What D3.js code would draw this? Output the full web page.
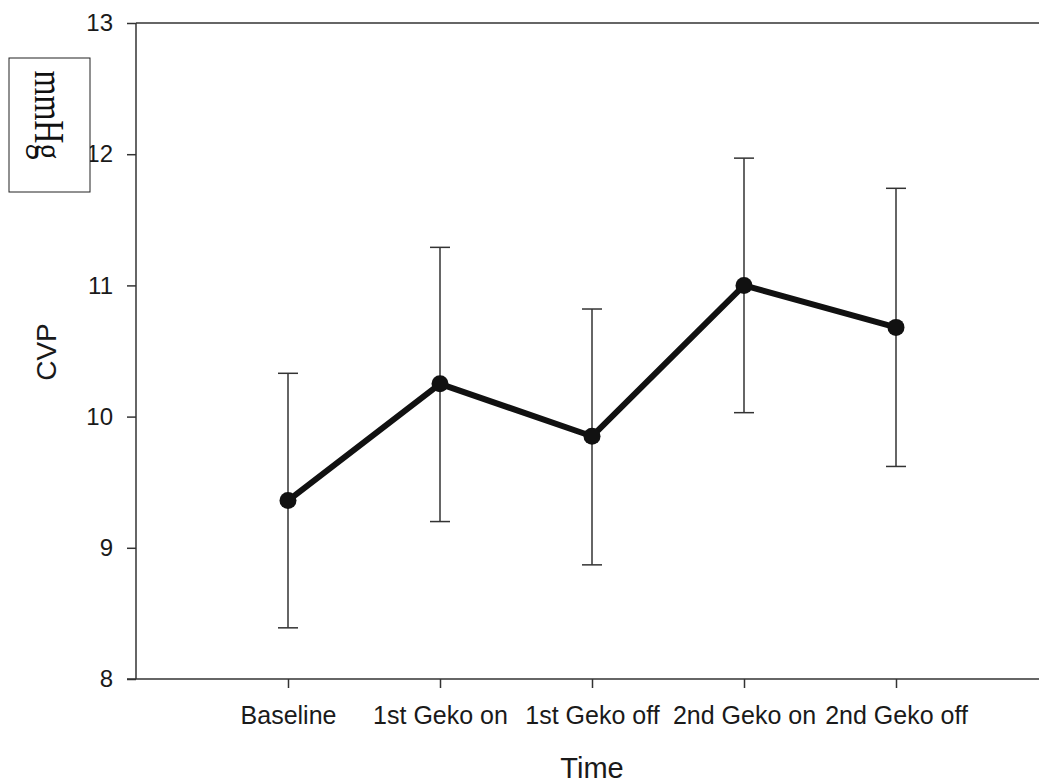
<!DOCTYPE html>
<html>
<head>
<meta charset="utf-8">
<script src="https://cdn.jsdelivr.net/npm/d3@7"></script>
<style>
  body { margin: 0; background: #fff; }
  svg { display: block; }
</style>
</head>
<body>
<script>
const categories = ["Baseline", "1st Geko on", "1st Geko off", "2nd Geko on", "2nd Geko off"];
const means = [9.36, 10.25, 9.85, 11.0, 10.68];
const upper = [10.33, 11.29, 10.82, 11.97, 11.74];
const lower = [8.39, 9.20, 8.87, 10.03, 9.62];
const yTicks = [8, 9, 10, 11, 12, 13];

const width = 1039, height = 783;
const plotLeft = 136, plotTop = 23, plotBottom = 679, plotRight = 1048;

const svg = d3.select("body").append("svg")
    .attr("width", width)
    .attr("height", height);

const x = d3.scaleLinear().domain([-1, categories.length]).range([plotLeft, plotRight]);
const y = d3.scaleLinear().domain([8, 13]).range([plotBottom, plotTop]);

const axisColor = "#333";
const sans = "'Liberation Sans', Arial, sans-serif";

// top frame line
svg.append("line")
    .attr("x1", plotLeft).attr("x2", plotRight)
    .attr("y1", plotTop).attr("y2", plotTop)
    .attr("stroke", axisColor).attr("stroke-width", 1.5);

// y axis
const yAxis = svg.append("g")
    .attr("transform", `translate(${plotLeft},0)`)
    .call(d3.axisLeft(y).tickValues(yTicks).tickSize(9).tickPadding(14).tickFormat(d3.format("d")));

// x axis
const xAxis = svg.append("g")
    .attr("transform", `translate(0,${plotBottom})`)
    .call(d3.axisBottom(x).tickValues(d3.range(categories.length)).tickSize(9).tickPadding(18)
        .tickFormat(i => categories[i]));

[yAxis, xAxis].forEach(g => {
    g.select(".domain").attr("stroke", axisColor).attr("stroke-width", 1.5);
    g.selectAll(".tick line").attr("stroke", axisColor).attr("stroke-width", 1.5);
    g.selectAll("text")
        .attr("fill", "#1a1a1a")
        .style("font-family", sans);
});
yAxis.selectAll("text").style("font-size", "24px");
xAxis.selectAll("text").style("font-size", "25px");
// bottom line runs left to the 8 tick
xAxis.select(".domain").attr("d", `M${plotLeft - 9},0H${plotRight}`);
yAxis.select(".domain").attr("d", `M0,${plotTop}V${plotBottom}`);

// error bars
const err = svg.append("g");
categories.forEach((c, i) => {
    err.append("line")
        .attr("x1", x(i)).attr("x2", x(i))
        .attr("y1", y(lower[i])).attr("y2", y(upper[i]))
        .attr("stroke", axisColor).attr("stroke-width", 1.5);
    [lower[i], upper[i]].forEach(v => {
        err.append("line")
            .attr("x1", x(i) - 10).attr("x2", x(i) + 10)
            .attr("y1", y(v)).attr("y2", y(v))
            .attr("stroke", axisColor).attr("stroke-width", 1.5);
    });
});

// mean line
const line = d3.line()
    .x((d, i) => x(i))
    .y(d => y(d));

svg.append("path")
    .datum(means)
    .attr("d", line)
    .attr("fill", "none")
    .attr("stroke", "#111")
    .attr("stroke-width", 6)
    .attr("stroke-linejoin", "round");

svg.selectAll(".pt")
    .data(means)
    .join("circle")
    .attr("class", "pt")
    .attr("cx", (d, i) => x(i))
    .attr("cy", d => y(d))
    .attr("r", 8.5)
    .attr("fill", "#111");

// axis titles
svg.append("text")
    .attr("x", 592)
    .attr("y", 778)
    .attr("text-anchor", "middle")
    .style("font-family", sans)
    .style("font-size", "29px")
    .attr("fill", "#1a1a1a")
    .text("Time");

svg.append("text")
    .attr("transform", "translate(56,352) rotate(-90)")
    .attr("text-anchor", "middle")
    .style("font-family", sans)
    .style("font-size", "28px")
    .attr("fill", "#1a1a1a")
    .text("CVP");

// unit box
svg.append("rect")
    .attr("x", 9).attr("y", 58)
    .attr("width", 81).attr("height", 134)
    .attr("fill", "#fff")
    .attr("stroke", "#222")
    .attr("stroke-width", 1);

svg.append("text")
    .attr("transform", "translate(35,115) rotate(90) scale(1,1.35)")
    .attr("text-anchor", "middle")
    .style("font-family", "'Liberation Serif', 'Times New Roman', serif")
    .style("font-size", "32px")
    .attr("fill", "#111")
    .text("mmHg");
</script>
</body>
</html>
